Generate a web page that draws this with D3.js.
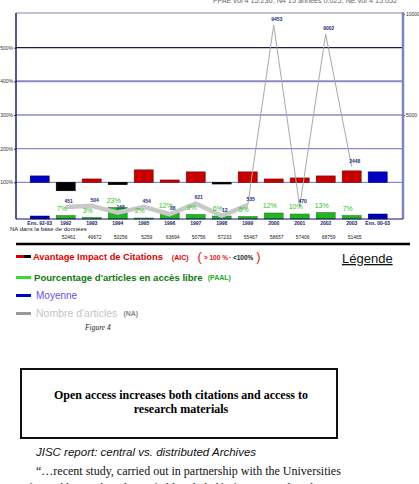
<!DOCTYPE html>
<html>
<head>
<meta charset="utf-8">
<script src="https://cdn.jsdelivr.net/npm/d3@7"></script>
<style>
  body { margin: 0; background: #fff; }
  svg { display: block; }
</style>
</head>
<body>
<div id="chart"></div>
<script>
// chart data
var categories = ["Ens. 92-03", "1992", "1993", "1994", "1995", "1996", "1997",
                  "1998", "1999", "2000", "2001", "2002", "2003", "Ens. 00-03"];
var aicValues = [119, 75, 110, 93, 137, 107, 131, 95, 131, 110, 113, 119, 134, 131];
var paalValues = [6, 7, 3, 23, 2, 12, 9, 6, 5, 12, 10, 13, 7, 10];
var articleCounts = [null, 451, 504, 168, 454, 88, 621, 12, 535, 9453, 470, 9002, 2448, null];
var baseCounts = [null, "52461", "49672", "50256", "5259", "63694", "50756",
                  "57233", "55467", "58657", "57406", "68759", "51465", null];
var leftTicks = [100, 200, 300, 400, 500];
var rightTicks = [5000, 10000];

var width = 419, height = 484;
var sans = "'Liberation Sans', Arial, sans-serif";
var serif = "'Liberation Serif', 'Times New Roman', serif";

var svg = d3.select("#chart").append("svg")
  .attr("width", width)
  .attr("height", height);

svg.append("rect").attr("width", width).attr("height", height).attr("fill", "#fff");

// header line cut at the top of the page
svg.append("text")
  .attr("x", 213).attr("y", 3)
  .attr("font-family", sans).attr("font-size", 8)
  .attr("textLength", 184).attr("lengthAdjust", "spacingAndGlyphs")
  .attr("fill", "#666")
  .text("FPAE vol 4 15.230; N4 15 années 0.025; NE vol 4 15.052");

var x = d3.scaleBand()
  .domain(categories)
  .range([26.7, 390.7])
  .padding(0.27)
  .paddingOuter(0.135);

var yLeft = d3.scaleLinear().domain([0, 600]).range([216, 14]);
var yRight = d3.scaleLinear().domain([0, 10000]).range([216, 14]);
var yPaal = d3.scaleLinear().domain([0, 100]).range([219, 169]);

var left = 16, right = 403, bottom = 219;

// frame + gridlines
svg.append("line")
  .attr("x1", left).attr("x2", right).attr("y1", 13).attr("y2", 13)
  .attr("stroke", "#8585b8").attr("stroke-width", 1.2);

svg.selectAll(".grid")
  .data(leftTicks)
  .enter().append("line")
  .attr("x1", left).attr("x2", right)
  .attr("y1", d => yLeft(d)).attr("y2", d => yLeft(d))
  .attr("stroke", d => d == 500 ? "#1a1a55" : "#8a8ac6")
  .attr("stroke-width", d => d == 400 ? 2 : 1.4);

var leftAxis = svg.append("g")
  .attr("transform", `translate(${left},0)`)
  .call(d3.axisLeft(yLeft).tickValues(leftTicks).tickFormat(d => d + "%").tickSize(2).tickPadding(1));
leftAxis.select(".domain").remove();
leftAxis.selectAll("text").attr("font-size", 5).attr("font-family", sans).attr("fill", "#333");
leftAxis.selectAll("line").attr("stroke", "#333");

var rightAxis = svg.append("g")
  .attr("transform", `translate(${right},0)`)
  .call(d3.axisRight(yRight).tickValues(rightTicks).tickSize(2).tickPadding(1).tickFormat(d3.format("d")));
rightAxis.select(".domain").remove();
rightAxis.selectAll("text").attr("font-size", 5).attr("font-family", sans).attr("fill", "#333");
rightAxis.selectAll("line").attr("stroke", "#333");

svg.append("line")
  .attr("x1", left).attr("x2", left).attr("y1", 13).attr("y2", bottom)
  .attr("stroke", "#101060").attr("stroke-width", 1.4);
svg.append("line")
  .attr("x1", right).attr("x2", right).attr("y1", 12).attr("y2", bottom)
  .attr("stroke", "#8282c0").attr("stroke-width", 2.5);

// AIC bars around the 100% line
var isAvg = (d, i) => i == 0 || i == categories.length - 1;
svg.selectAll(".aic")
  .data(aicValues)
  .enter().append("rect")
  .attr("x", (d, i) => x(categories[i]))
  .attr("width", x.bandwidth())
  .attr("y", d => Math.min(yLeft(d), yLeft(100)))
  .attr("height", d => Math.abs(yLeft(d) - yLeft(100)))
  .attr("fill", (d, i) => isAvg(d, i) ? "#0000c4" : (d >= 100 ? "#c80000" : "#000"))
  .attr("stroke", (d, i) => isAvg(d, i) ? "#000070" : (d >= 100 ? "#700000" : "#000"))
  .attr("stroke-width", 0.6);

// PAAL bars at the bottom
svg.selectAll(".paal")
  .data(paalValues)
  .enter().append("rect")
  .attr("x", (d, i) => x(categories[i]))
  .attr("width", x.bandwidth())
  .attr("y", d => yPaal(d))
  .attr("height", d => yPaal(0) - yPaal(d))
  .attr("fill", (d, i) => isAvg(d, i) ? "#0000b0" : "#22b422")
  .attr("stroke", (d, i) => isAvg(d, i) ? "#000070" : "#127812")
  .attr("stroke-width", 0.5);

// article count line
var pts = articleCounts.map((d, i) => ({ c: categories[i], v: d, i: i })).filter(p => p.v != null);
var line = d3.line()
  .x(p => x(p.c) + x.bandwidth() / 2)
  .y(p => yRight(p.v));

svg.append("path")
  .datum(pts.filter(p => p.i <= 8))
  .attr("d", line)
  .attr("fill", "none")
  .attr("stroke", "#c8c8c8")
  .attr("stroke-width", 4.5)
  .attr("stroke-linejoin", "round");

svg.append("path")
  .datum(pts.filter(p => p.i >= 8))
  .attr("d", line)
  .attr("fill", "none")
  .attr("stroke", "#a8a8a8")
  .attr("stroke-width", 1);

svg.selectAll(".nalab")
  .data(pts)
  .enter().append("text")
  .attr("x", p => x(p.c) + x.bandwidth() / 2 + 3)
  .attr("y", p => yRight(p.v) - 4)
  .attr("text-anchor", "middle")
  .attr("font-family", sans).attr("font-size", 5).attr("font-weight", "bold")
  .attr("fill", "#2a2a88")
  .text(p => p.v);

// percentage labels
svg.selectAll(".plab")
  .data(paalValues)
  .enter().append("text")
  .filter((d, i) => !isAvg(d, i))
  .attr("x", (d, i) => x(categories[i + 1]) + x.bandwidth() / 2 - 4)
  .attr("y", d => yPaal(d) - 5)
  .attr("text-anchor", "middle")
  .attr("font-family", sans).attr("font-size", 7)
  .attr("fill", "#2ec02e")
  .text(d => d + "%");

// bottom axis
svg.append("line")
  .attr("x1", left).attr("x2", right).attr("y1", bottom).attr("y2", bottom)
  .attr("stroke", "#101060").attr("stroke-width", 1.2);

var xAxis = svg.append("g")
  .attr("transform", `translate(0,${bottom})`)
  .call(d3.axisBottom(x).tickSize(0).tickPadding(2));
xAxis.select(".domain").remove();
xAxis.selectAll("text").attr("font-size", 5).attr("font-weight", "bold")
  .attr("font-family", sans).attr("fill", "#22226a");

svg.append("text")
  .attr("x", 10).attr("y", 231)
  .attr("font-family", sans).attr("font-size", 6)
  .attr("fill", "#222")
  .text("NA dans la base de données");

svg.selectAll(".base")
  .data(baseCounts)
  .enter().append("text")
  .filter(d => d != null)
  .attr("x", (d, i) => x(categories[i + 1]) + x.bandwidth() / 2 + 3)
  .attr("y", 238.5)
  .attr("text-anchor", "middle")
  .attr("font-family", sans).attr("font-size", 5)
  .attr("fill", "#222")
  .text(d => d);

svg.append("line")
  .attr("x1", left).attr("x2", 410).attr("y1", 244).attr("y2", 244)
  .attr("stroke", "#000").attr("stroke-width", 2.5);

// legend
var lg = svg.append("g").attr("font-family", sans);

lg.append("rect").attr("x", 16).attr("y", 255).attr("width", 8).attr("height", 3).attr("fill", "#d00000");
lg.append("rect").attr("x", 24).attr("y", 255).attr("width", 7).attr("height", 3).attr("fill", "#000");
var t1 = lg.append("text").attr("x", 33).attr("y", 260).attr("font-size", 9.3).attr("font-weight", "bold");
t1.append("tspan").attr("fill", "#dd0000").text("Avantage Impact de Citations");
t1.append("tspan").attr("fill", "#dd0000").attr("font-size", 7).attr("dx", 9).text("(AIC)");
t1.append("tspan").attr("fill", "#ee1111").attr("font-size", 13).attr("font-weight", "normal").attr("dx", 9).attr("dy", 1).text("(");
t1.append("tspan").attr("fill", "#ee1111").attr("font-size", 6.5).attr("dx", 2).attr("dy", -1).text("> 100 %");
t1.append("tspan").attr("fill", "#222").attr("font-size", 6.5).attr("dx", 1).text("· <100%");
t1.append("tspan").attr("fill", "#ee1111").attr("font-size", 13).attr("font-weight", "normal").attr("dx", 3).attr("dy", 1).text(")");

lg.append("rect").attr("x", 16).attr("y", 276).attr("width", 15).attr("height", 3).attr("fill", "#33dd33");
var t2 = lg.append("text").attr("x", 34).attr("y", 281).attr("font-size", 9.6).attr("font-weight", "bold");
t2.append("tspan").attr("fill", "#117711").text("Pourcentage d'articles en accès libre");
t2.append("tspan").attr("fill", "#22aa22").attr("font-size", 7).attr("dx", 5).attr("dy", -1).text("(PAAL)");

lg.append("rect").attr("x", 16).attr("y", 294).attr("width", 15).attr("height", 3).attr("fill", "#0000cc");
lg.append("text").attr("x", 36).attr("y", 299).attr("font-size", 10)
  .attr("fill", "#6a4ee0").text("Moyenne");

lg.append("rect").attr("x", 16).attr("y", 312).attr("width", 15).attr("height", 3).attr("fill", "#999");
var t4 = lg.append("text").attr("x", 36).attr("y", 317).attr("font-size", 10.5);
t4.append("tspan").attr("fill", "#c4c4c4").text("Nombre d'articles");
t4.append("tspan").attr("fill", "#888").attr("font-size", 7).attr("font-weight", "bold").attr("dx", 6).attr("dy", -1).text("(NA)");

lg.append("text").attr("x", 342).attr("y", 263).attr("font-size", 13)
  .attr("fill", "#111").attr("text-decoration", "underline").text("Légende");

// page text below the figure
svg.append("text")
  .attr("x", 85).attr("y", 330)
  .attr("font-family", serif).attr("font-style", "italic").attr("font-size", 7.5)
  .attr("fill", "#222").text("Figure 4");

svg.append("rect")
  .attr("x", 21).attr("y", 369).attr("width", 316).attr("height", 69)
  .attr("fill", "none").attr("stroke", "#111").attr("stroke-width", 2);

svg.append("text")
  .attr("x", 181).attr("y", 399).attr("text-anchor", "middle")
  .attr("font-family", serif).attr("font-weight", "bold").attr("font-size", 12)
  .attr("fill", "#000").text("Open access increases both citations and access to");
svg.append("text")
  .attr("x", 181).attr("y", 413).attr("text-anchor", "middle")
  .attr("font-family", serif).attr("font-weight", "bold").attr("font-size", 12)
  .attr("fill", "#000").text("research materials");

svg.append("text")
  .attr("x", 36).attr("y", 455.5)
  .attr("font-family", sans).attr("font-style", "italic").attr("font-size", 11.5)
  .attr("fill", "#111").text("JISC report: central vs. distributed Archives");

svg.append("text")
  .attr("x", 36).attr("y", 475)
  .attr("font-family", serif).attr("font-size", 12)
  .attr("fill", "#111").text("\u201c\u2026recent study, carried out in partnership with the Universities");

svg.append("text")
  .attr("x", 22).attr("y", 492)
  .attr("font-family", serif).attr("font-size", 12)
  .attr("fill", "#111").text("of Loughborough and Cranfield on behalf of JISC, produced a");
</script>
</body>
</html>
